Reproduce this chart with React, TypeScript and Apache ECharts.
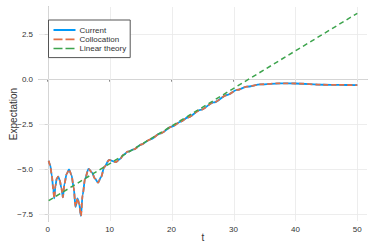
import React, { useEffect, useRef } from "react";
import * as echarts from "echarts";

const tValues = [0, 0.25, 0.5, 0.75, 0.9, 1.1, 1.3, 1.55, 1.8, 2.05, 2.3, 2.55, 2.9, 3.3, 3.7, 4.05, 4.35, 4.68, 4.95, 5.22, 5.5, 5.9, 6.45, 7.0, 7.5, 8.0, 8.5, 9.0, 9.8, 10.4, 10.9, 11.5, 12.2, 12.8, 13.8, 15, 16.5, 18, 20, 21.4, 22.5, 24.6, 26.75, 28.9, 30.5, 32.1, 34.3, 37.5, 40, 44.5, 47, 50];
const currentValues = [-4.5, -4.75, -5.3, -6.1, -6.59, -5.9, -5.5, -5.39, -5.6, -6.0, -6.53, -5.8, -5.25, -4.98, -5.3, -6.0, -7.06, -6.59, -6.9, -7.57, -6.4, -5.5, -4.95, -5.15, -5.5, -5.72, -5.4, -4.85, -4.46, -4.52, -4.58, -4.42, -4.15, -4.0, -3.87, -3.6, -3.31, -3.0, -2.6, -2.33, -2.1, -1.68, -1.26, -0.85, -0.57, -0.39, -0.26, -0.2, -0.21, -0.28, -0.29, -0.3];
const collocationValues = [-4.5, -4.75, -5.3, -6.1, -6.59, -5.9, -5.5, -5.39, -5.6, -6.0, -6.53, -5.8, -5.25, -4.98, -5.3, -6.0, -7.06, -6.59, -6.9, -7.57, -6.4, -5.5, -4.95, -5.15, -5.5, -5.72, -5.4, -4.85, -4.46, -4.52, -4.58, -4.42, -4.15, -4.0, -3.87, -3.6, -3.31, -3.0, -2.6, -2.33, -2.1, -1.68, -1.26, -0.85, -0.57, -0.39, -0.26, -0.2, -0.21, -0.28, -0.29, -0.3];
const linearT = [0, 50];
const linearValues = [-6.72, 3.69];
const xTicks = [0, 10, 20, 30, 40, 50];
const yTicks = [-7.5, -5, -2.5, 0, 2.5];
const seriesNames = ["Current", "Collocation", "Linear theory"];
const colors = ["#009af9", "#e26f46", "#3da44d"];

const FONT = "Liberation Sans, Arial, sans-serif";
const AXIS_COLOR = "#8a8a8a";
const TEXT_COLOR = "#333333";

export default function App() {
  const ref = useRef<HTMLDivElement>(null);
  useEffect(() => {
    if (!ref.current) return;
    const chart = echarts.init(ref.current, null, { renderer: "svg" });
    const zip = (xs: number[], ys: number[]) => xs.map((x, i) => [x, ys[i]]);
    const fmtY = (v: number) => (v < 0 ? "\u2212" + Math.abs(v).toFixed(1) : v.toFixed(1));
    chart.setOption({
      animation: false,
      backgroundColor: "#ffffff",
      textStyle: { fontFamily: FONT },
      grid: [
        { left: 38, right: 7, top: 7, bottom: 28 },
        { left: 47.7, right: 16.7, top: 34.7, bottom: 34.3 },
      ],
      xAxis: [
        {
          type: "value",
          gridIndex: 0,
          min: -1.567,
          max: 51.567,
          name: "t",
          nameLocation: "middle",
          nameGap: 11,
          nameTextStyle: { fontSize: 10, color: TEXT_COLOR, fontFamily: FONT },
          axisLine: { show: true, lineStyle: { color: AXIS_COLOR, width: 1 } },
          axisTick: { show: false },
          axisLabel: { show: false },
          splitLine: { show: false },
        },
        {
          type: "value",
          gridIndex: 1,
          min: 0,
          max: 50,
          interval: 10,
          offset: 6.3,
          axisLine: { show: false },
          axisTick: { show: true, length: 2, lineStyle: { color: AXIS_COLOR } },
          axisLabel: { show: true, fontSize: 8, color: TEXT_COLOR, margin: 4, fontFamily: FONT },
          splitLine: { show: false },
        },
      ],
      yAxis: [
        {
          type: "value",
          gridIndex: 0,
          min: -7.85,
          max: 4.039,
          name: "Expectation",
          nameLocation: "middle",
          nameGap: 21,
          nameTextStyle: { fontSize: 10, color: TEXT_COLOR, fontFamily: FONT },
          axisLine: { show: true, lineStyle: { color: AXIS_COLOR, width: 1 } },
          axisTick: { show: false },
          axisLabel: { show: false },
          splitLine: { show: false },
        },
        {
          type: "value",
          gridIndex: 1,
          min: -7.5,
          max: 2.5,
          interval: 2.5,
          offset: 9.7,
          axisLine: { show: false },
          axisTick: { show: true, length: 3, lineStyle: { color: AXIS_COLOR } },
          axisLabel: { show: true, fontSize: 8, color: TEXT_COLOR, margin: 5, fontFamily: FONT, formatter: fmtY },
          splitLine: { show: false },
        },
      ],
      legend: {
        orient: "vertical",
        left: 48.5,
        top: 20,
        padding: [6, 4, 5, 4],
        itemWidth: 22,
        itemHeight: 8,
        itemGap: 1.3,
        backgroundColor: "#ffffff",
        borderColor: "#555555",
        borderWidth: 1,
        borderRadius: 0,
        itemStyle: { opacity: 0, borderWidth: 0 },
        textStyle: { fontSize: 8, color: TEXT_COLOR, fontFamily: FONT, padding: [0, 0, 0, -1] },
        data: [
          { name: seriesNames[0] },
          { name: seriesNames[1], lineStyle: { type: [9, 3], width: 1.8 } },
          { name: seriesNames[2], lineStyle: { type: [9, 3], width: 1.5 } },
        ],
      },
      series: [
        {
          type: "line",
          name: "",
          xAxisIndex: 0,
          yAxisIndex: 0,
          data: [],
          silent: true,
          markLine: {
            silent: true,
            z: 1,
            symbol: ["none", "none"],
            label: { show: false },
            lineStyle: { color: "#e8e8e8", width: 0.8, type: "solid" },
            emphasis: { disabled: true },
            data: [
              ...xTicks.map((v) => ({ xAxis: v })),
              ...yTicks.map((v) => ({ yAxis: v })),
            ],
          },
        },
        {
          type: "line",
          name: seriesNames[0],
          xAxisIndex: 0,
          yAxisIndex: 0,
          data: zip(tValues, currentValues),
          showSymbol: false,
          symbol: "none",
          smooth: 0.3,
          smoothMonotone: "x",
          color: colors[0],
          lineStyle: { color: colors[0], width: 1.8 },
          z: 3,
        },
        {
          type: "line",
          name: seriesNames[1],
          xAxisIndex: 0,
          yAxisIndex: 0,
          data: zip(tValues, collocationValues),
          showSymbol: false,
          symbol: "none",
          smooth: 0.3,
          smoothMonotone: "x",
          color: colors[1],
          lineStyle: { color: colors[1], width: 1.8, type: [5, 3] },
          z: 4,
        },
        {
          type: "line",
          name: seriesNames[2],
          xAxisIndex: 0,
          yAxisIndex: 0,
          data: zip(linearT, linearValues),
          showSymbol: false,
          symbol: "none",
          color: colors[2],
          lineStyle: { color: colors[2], width: 1.5, type: [5, 3.5] },
          z: 5,
        },
      ],
    });
    return () => chart.dispose();
  }, []);
  return (
    <div
      ref={ref}
      style={{ position: "fixed", left: 0, top: 0, width: 374, height: 249 }}
    />
  );
}
